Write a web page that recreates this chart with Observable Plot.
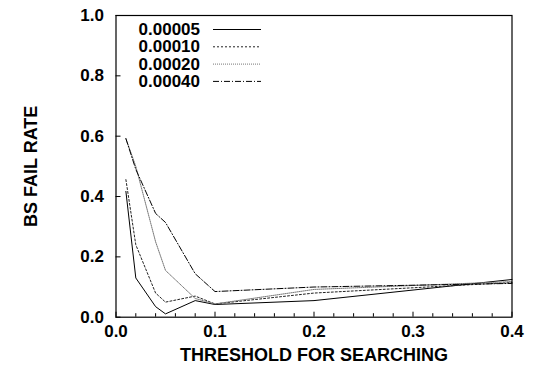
<!DOCTYPE html>
<html>
<head>
<meta charset="utf-8">
<script src="https://cdn.jsdelivr.net/npm/d3@7"></script>
<script src="https://cdn.jsdelivr.net/npm/@observablehq/plot@0.6"></script>
<style>
  html, body { margin: 0; padding: 0; background: #fff; }
  #chart svg { display: block; }
</style>
</head>
<body>
<div id="chart"></div>
<script>
// ---- data ----
const thresholds = [0.01, 0.02, 0.04, 0.05, 0.08, 0.1, 0.2, 0.4];
const seriesNames = ["0.00005", "0.00010", "0.00020", "0.00040"];
const rate00005 = [0.417, 0.13, 0.035, 0.011, 0.055, 0.042, 0.055, 0.125];
const rate00010 = [0.456, 0.24, 0.08, 0.05, 0.07, 0.044, 0.08, 0.115];
const rate00020 = [0.592, 0.50, 0.25, 0.155, 0.062, 0.044, 0.092, 0.118];
const rate00040 = [0.592, 0.49, 0.344, 0.314, 0.144, 0.085, 0.10, 0.112];
const xTicks = [0, 0.1, 0.2, 0.3, 0.4];
const xMinorTicks = [0.02, 0.04, 0.06, 0.08, 0.12, 0.14, 0.16, 0.18, 0.22, 0.24, 0.26, 0.28, 0.32, 0.34, 0.36, 0.38];
const yTicks = [0, 0.2, 0.4, 0.6, 0.8, 1.0];
const xTitle = "THRESHOLD FOR SEARCHING";
const yTitle = "BS FAIL RATE";

const allRates = [rate00005, rate00010, rate00020, rate00040];
const styles = {
  "0.00005": {stroke: "#000", dash: null},
  "0.00010": {stroke: "#222", dash: "2,2"},
  "0.00020": {stroke: "#777", dash: "1,1"},
  "0.00040": {stroke: "#000", dash: "6,2,1,2"}
};

const rows = [];
seriesNames.forEach((s, i) => thresholds.forEach((t, j) => rows.push({series: s, x: t, y: allRates[i][j]})));

const W = 541, H = 371;
const mL = 115.5, mR = 29.5, mT = 15, mB = 54.3;

const lineMarks = seriesNames.map(s => Plot.line(rows.filter(r => r.series === s), {
  x: "x", y: "y", stroke: styles[s].stroke, strokeWidth: 1,
  strokeDasharray: styles[s].dash
}));

const chart = Plot.plot({
  width: W, height: H,
  marginLeft: mL, marginRight: mR, marginTop: mT, marginBottom: mB,
  style: {fontFamily: "'Liberation Sans', Arial, Helvetica, sans-serif", fontWeight: "bold", fontSize: "17px", color: "#000", background: "#fff"},
  x: {domain: [0, 0.4]},
  y: {domain: [0, 1]},
  marks: [
    ...lineMarks,
    Plot.frame({stroke: "#000", strokeWidth: 1.2}),
    // major ticks inward
    Plot.axisX(xTicks, {tickSize: -5, fill: "none", label: null}),
    Plot.axisX(xMinorTicks, {tickSize: -3.5, fill: "none", label: null}),
    Plot.axisY(yTicks, {tickSize: -5, fill: "none", label: null}),
    // tick labels
    Plot.axisX(xTicks, {tickSize: 0, tickPadding: 8, tickFormat: d3.format(".1f"), label: null, fontSize: 17}),
    Plot.axisY(yTicks, {tickSize: 0, tickPadding: 12, tickFormat: d3.format(".1f"), label: null, fontSize: 17}),
    // axis titles
    Plot.text([xTitle], {frameAnchor: "bottom", dy: 38, text: d => d, fontSize: 18, fontWeight: "bold", lineAnchor: "middle"}),
    Plot.text([yTitle], {frameAnchor: "left", dx: -85, rotate: -90, text: d => d, textAnchor: "middle", fontSize: 18, fontWeight: "bold", lineAnchor: "middle"})
  ]
});

// legend inside the frame, top-left
const svg = d3.select(chart);
const lg = svg.append("g").attr("class", "legend");
const rowY = [29.5, 46.8, 64.1, 81.4];
seriesNames.forEach((s, i) => {
  lg.append("text").attr("x", 200).attr("y", rowY[i]).attr("text-anchor", "end")
    .attr("dominant-baseline", "central").attr("font-size", 17).attr("font-weight", "bold")
    .attr("fill", "#000").text(s);
  lg.append("line").attr("x1", 213).attr("x2", 261).attr("y1", rowY[i]).attr("y2", rowY[i])
    .attr("stroke", styles[s].stroke).attr("stroke-width", 1)
    .attr("stroke-dasharray", styles[s].dash);
});

document.getElementById("chart").appendChild(chart);
</script>
</body>
</html>
